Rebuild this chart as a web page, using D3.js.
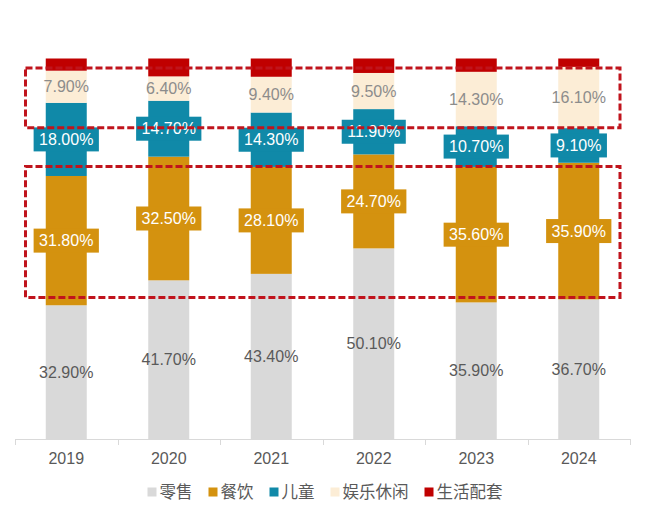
<!DOCTYPE html>
<html><head><meta charset="utf-8">
<script src="https://cdn.jsdelivr.net/npm/d3@7"></script>
<style>body{margin:0;background:#fff}svg{display:block}</style>
</head><body>
<svg id="c" width="650" height="527"></svg>
<script>
const years = ["2019","2020","2021","2022","2023","2024"];
const seriesNames = ["零售","餐饮","儿童","娱乐休闲","生活配套"];
const retail   = [32.9, 41.7, 43.4, 50.1, 35.9, 36.7];
const catering = [31.8, 32.5, 28.1, 24.7, 35.6, 35.9];
const children = [18.0, 14.7, 14.3, 11.9, 10.7, 9.1];
const leisure  = [7.9, 6.4, 9.4, 9.5, 14.3, 16.1];
const living   = [3.0, 4.7, 4.8, 3.8, 3.5, 2.2];
const colors = ["#d9d9d9","#d4920f","#1089a8","#fcedd6","#c00000"];
// annotation boxes (in share-of-total units)
const boxTop = [0.975, 0.818];
const boxBottom = [0.716, 0.372];

const rows = years.map((y,i)=>({year:y, 零售:retail[i], 餐饮:catering[i], 儿童:children[i], 娱乐休闲:leisure[i], 生活配套:living[i]}));
const stack = d3.stack().keys(seriesNames).offset(d3.stackOffsetExpand)(rows);

const svg = d3.select("#c");
const x = d3.scaleBand().domain(years).range([15,630]).paddingInner(0.6).paddingOuter(0.3);
const y = d3.scaleLinear().domain([0,1]).range([439,58.5]);
const font = "'Liberation Sans', Arial, sans-serif";

const g = svg.append("g");
stack.forEach((s,si)=>{
  g.selectAll(null).data(s).enter().append("rect")
    .attr("x", d=>x(d.data.year)).attr("width", x.bandwidth())
    .attr("y", d=>y(d[1])).attr("height", d=>y(d[0])-y(d[1]))
    .attr("fill", colors[si]);
});

// axis
const step = x.step();
const ax = svg.append("g");
ax.append("line").attr("x1",15).attr("x2",630).attr("y1",439.5).attr("y2",439.5).attr("stroke","#d9d9d9");
d3.range(years.length+1).forEach(i=>{
  const xx = Math.round(15 + i*step)+0.5;
  ax.append("line").attr("x1",xx).attr("x2",xx).attr("y1",439).attr("y2",445).attr("stroke","#d9d9d9");
});
const xAxis = svg.append("g").attr("transform","translate(0,439)")
  .call(d3.axisBottom(x).tickSize(0).tickPadding(14));
xAxis.select(".domain").remove();
xAxis.selectAll("text").attr("font-family",font).attr("font-size",16).attr("fill","#595959");

// labels
const labelCfg = [
  {box:false, color:"#595959"},
  {box:true, color:"#ffffff"},
  {box:true, color:"#ffffff"},
  {box:false, color:"#8c8c8c"},
  null
];
stack.forEach((s,si)=>{
  const cfg = labelCfg[si]; if(!cfg) return;
  s.forEach((d,i)=>{
    const cx = x(d.data.year)+x.bandwidth()/2;
    const cy = (y(d[0])+y(d[1]))/2;
    const val = [retail,catering,children,leisure][si][i];
    const lg = svg.append("g");
    const t = lg.append("text").attr("x",cx).attr("y",cy).attr("dy","0.35em")
      .attr("text-anchor","middle").attr("font-family",font).attr("font-size",16)
      .attr("fill",cfg.color).text(val.toFixed(2)+"%");
    if(cfg.box){
      const w = t.node().getComputedTextLength()+11;
      lg.insert("rect","text").attr("x",cx-w/2).attr("y",cy-12).attr("width",w).attr("height",24).attr("fill",colors[si]);
    }
  });
});

// dashed annotation boxes
const bx0 = x.range()[0]+10.5, bx1 = x.range()[1]-10;
[boxTop, boxBottom].forEach(b=>{
  svg.append("rect").attr("x",bx0).attr("y",y(b[0])).attr("width",bx1-bx0).attr("height",y(b[1])-y(b[0]))
    .attr("fill","none").attr("stroke","#c0141c").attr("stroke-width",3).attr("stroke-dasharray","7,3");
});

// legend
const leg = svg.append("g");
let cur = 0; const items=[];
seriesNames.forEach((n,i)=>{
  const it = leg.append("g");
  it.append("rect").attr("x",0).attr("y",-4.5).attr("width",9).attr("height",9).attr("fill",colors[i]);
  const t = it.append("text").attr("x",12).attr("y",0).attr("dy","0.35em").attr("font-family","'Noto Sans CJK SC', sans-serif")
    .attr("font-size",16.5).attr("fill","#595959").text(n);
  const w = 12 + t.node().getComputedTextLength();
  it.attr("transform",`translate(${cur},0)`);
  cur += w + 16;
});
cur -= 16;
leg.attr("transform",`translate(${(650-cur)/2},492)`);
</script>
</body></html>
